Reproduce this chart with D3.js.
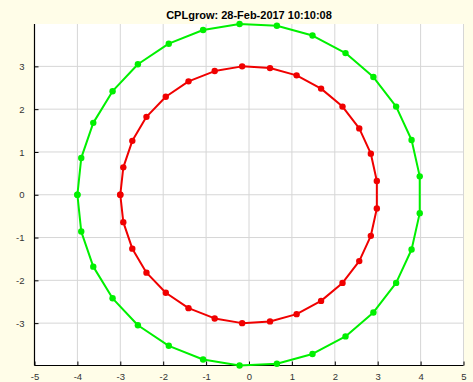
<!DOCTYPE html>
<html><head><meta charset="utf-8">
<script src="https://cdn.jsdelivr.net/npm/d3@7"></script>
<style>
html,body{margin:0;padding:0;background:#fffde8;}
svg{display:block;font-family:"Liberation Sans",Arial,Helvetica,sans-serif;}
</style></head><body>
<svg id="chart" width="473" height="382"></svg>
<script>
const titleText = "CPLgrow: 28-Feb-2017 10:10:08";
const xTicks = [-5,-4,-3,-2,-1,0,1,2,3,4,5];
const yTicks = [-3,-2,-1,0,1,2,3];
const redX = [-3.00,-2.93,-2.72,-2.39,-1.94,-1.41,-0.80,-0.16,0.49,1.11,1.68,2.18,2.57,2.84,2.98,2.98,2.84,2.57,2.18,1.68,1.11,0.49,-0.16,-0.80,-1.41,-1.94,-2.39,-2.72,-2.93,-3.00];
const redY = [0.00,0.64,1.26,1.82,2.29,2.65,2.89,3.00,2.96,2.79,2.48,2.06,1.55,0.96,0.32,-0.32,-0.96,-1.55,-2.06,-2.48,-2.79,-2.96,-3.00,-2.89,-2.65,-2.29,-1.82,-1.26,-0.64,0.00];
const greenX = [-4.00,-3.91,-3.63,-3.18,-2.59,-1.87,-1.07,-0.22,0.65,1.48,2.25,2.90,3.43,3.79,3.98,3.98,3.79,3.43,2.90,2.25,1.48,0.65,-0.22,-1.07,-1.87,-2.59,-3.18,-3.63,-3.91,-4.00];
const greenY = [0.00,0.86,1.68,2.42,3.05,3.53,3.85,3.99,3.95,3.72,3.31,2.75,2.06,1.28,0.43,-0.43,-1.28,-2.06,-2.75,-3.31,-3.72,-3.95,-3.99,-3.85,-3.53,-3.05,-2.42,-1.68,-0.86,0.00];

const svg = d3.select("#chart");
const L = 34.5, R = 463.5, T = 24, B = 365.5;
const x = d3.scaleLinear().domain([-5,5]).range([L,R]);
const y = d3.scaleLinear().domain([-3.99,3.99]).range([B,T]);

svg.append("rect").attr("x",L).attr("y",T).attr("width",R-L).attr("height",B-T).attr("fill","#ffffff");

// grid
const g = svg.append("g");
g.selectAll("line.gx").data(xTicks).join("line")
  .attr("x1",d=>x(d)).attr("x2",d=>x(d)).attr("y1",T).attr("y2",B)
  .attr("stroke","#d6d6d6").attr("stroke-width",1);
g.selectAll("line.gy").data(yTicks).join("line")
  .attr("x1",L).attr("x2",R).attr("y1",d=>y(d)).attr("y2",d=>y(d))
  .attr("stroke","#d6d6d6").attr("stroke-width",1);

// axes
const fmt = d => String(d);
const xAxis = d3.axisBottom(x).tickValues(xTicks).tickFormat(fmt).tickSizeInner(-4).tickSizeOuter(0).tickPadding(8);
const yAxis = d3.axisLeft(y).tickValues(yTicks).tickFormat(fmt).tickSizeInner(-4).tickSizeOuter(0).tickPadding(10);
const gx = svg.append("g").attr("transform",`translate(0,${B})`).call(xAxis);
const gy = svg.append("g").attr("transform",`translate(${L},0)`).call(yAxis);
[gx,gy].forEach(a=>{
  a.select(".domain").attr("stroke","#000").attr("stroke-width",1.2);
  a.selectAll(".tick line").attr("stroke","#000");
  a.selectAll(".tick text").attr("fill","#333").attr("font-size","9.5px").attr("font-family","Liberation Sans, Arial, sans-serif");
});
gy.select(".domain").attr("d",`M0,${T}V${B}`);
gx.select(".domain").attr("d",`M${L},0H${R}`);

// series
const series = [
  {xs:greenX, ys:greenY, color:"#00f000"},
  {xs:redX, ys:redY, color:"#f00000"}
];
const line = d3.line().x(d=>x(d[0])).y(d=>y(d[1]));
series.forEach(s=>{
  const pts = s.xs.map((v,i)=>[v,s.ys[i]]);
  svg.append("path").datum(pts).attr("d",line).attr("fill","none")
    .attr("stroke",s.color).attr("stroke-width",2).attr("stroke-linejoin","round");
  svg.append("g").selectAll("circle").data(pts).join("circle")
    .attr("cx",d=>x(d[0])).attr("cy",d=>y(d[1])).attr("r",3.2).attr("fill",s.color);
});

svg.append("text").attr("x",249).attr("y",19).attr("text-anchor","middle")
  .attr("font-size","11px").attr("font-weight","bold").attr("fill","#000").text(titleText);
</script></body></html>
